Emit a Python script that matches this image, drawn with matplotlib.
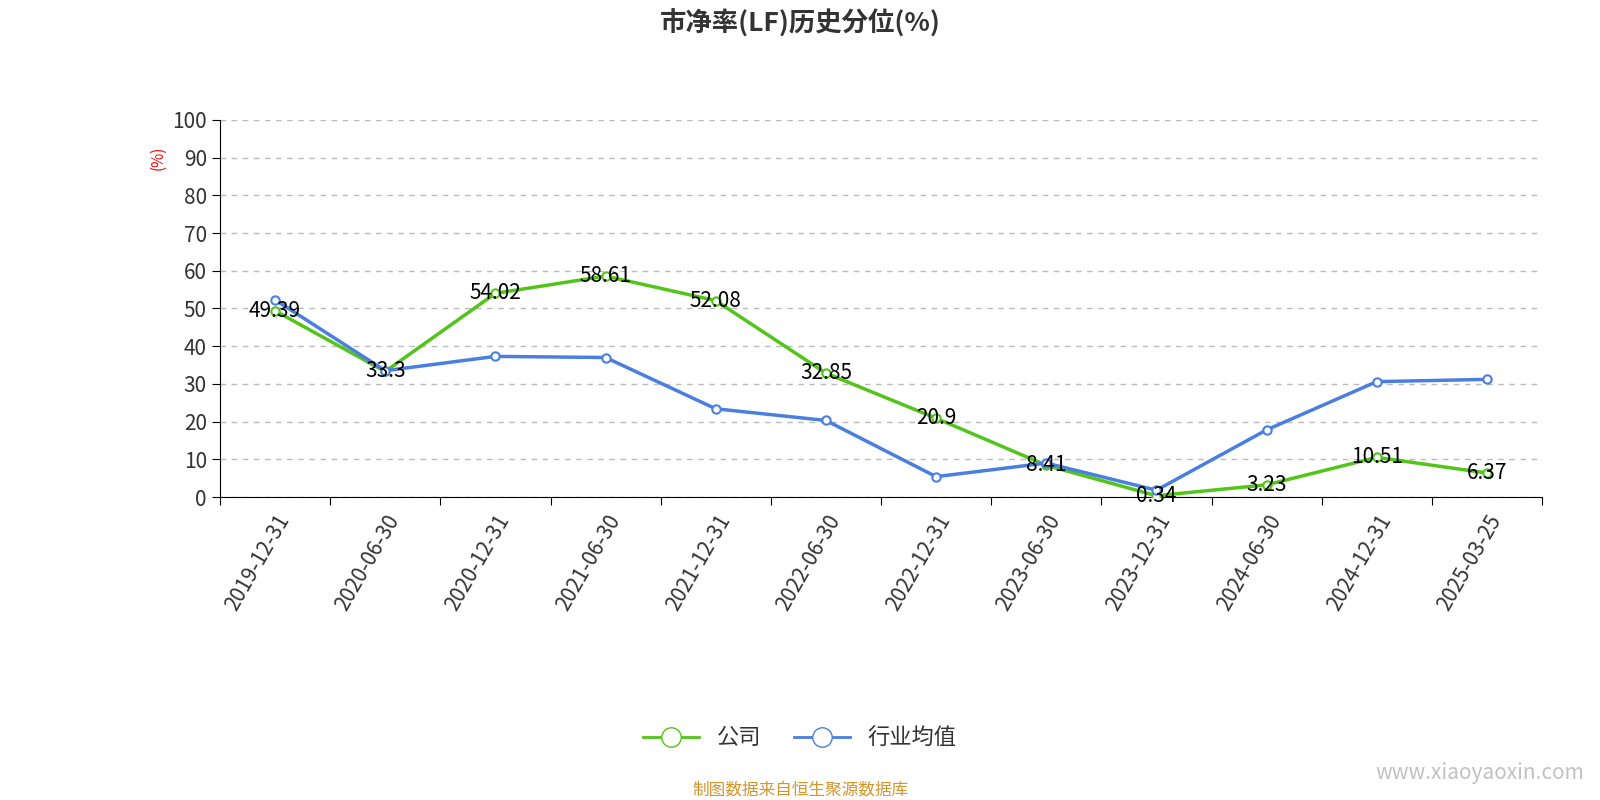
import matplotlib
matplotlib.use("Agg")
import matplotlib.pyplot as plt
from matplotlib import font_manager as fm

cands = ['Noto Sans CJK SC', 'Noto Sans CJK JP', 'Noto Sans CJK TC', 'Noto Sans CJK KR']
avail = {f.name for f in fm.fontManager.ttflist}
cjk = [c for c in cands if c in avail]
plt.rcParams['font.family'] = 'sans-serif'
plt.rcParams['font.sans-serif'] = cjk + ['DejaVu Sans']

dates = ["2019-12-31","2020-06-30","2020-12-31","2021-06-30","2021-12-31","2022-06-30",
         "2022-12-31","2023-06-30","2023-12-31","2024-06-30","2024-12-31","2025-03-25"]
company = [49.39, 33.3, 54.02, 58.61, 52.08, 32.85, 20.9, 8.41, 0.34, 3.23, 10.51, 6.37]
industry = [52.3, 33.5, 37.3, 37.0, 23.4, 20.3, 5.4, 9.0, 1.8, 17.8, 30.6, 31.2]

fig = plt.figure(figsize=(16, 8), dpi=100)
ax = fig.add_axes([220/1600, 1-497/800, 1322/1600, 377/800])
x = list(range(len(dates)))
green = '#52c41a'; blue = '#4a7fe0'
ax.plot(x, company, color=green, lw=2.5, marker='o', ms=6, mfc='white', mec=green, mew=1.5, zorder=3)
ax.plot(x, industry, color=blue, lw=2.5, marker='o', ms=6, mfc='white', mec=blue, mew=1.5, zorder=4)
for xi, v in zip(x, company):
    ax.text(xi, v, f"{v:g}", ha='center', va='center', fontsize=15, color='black', zorder=5)

ax.set_xlim(-0.5, len(dates)-0.5)
ax.set_ylim(0, 100)
ax.set_yticks(range(0, 101, 10))
ax.set_xticks([i-0.5 for i in range(len(dates)+1)], minor=False)
ax.set_xticklabels([])
ax.set_xticks(x, minor=True)
ax.set_xticklabels(dates, minor=True, rotation=60, ha='right', rotation_mode='anchor', fontsize=15, color='#333')
ax.tick_params(axis='x', which='minor', length=0, pad=10)
ax.tick_params(axis='x', which='major', length=6)
ax.tick_params(axis='y', labelsize=15, labelcolor='#333', length=6)
ax.yaxis.grid(True, ls=(0, (4, 4)), color='#bbb', lw=1)
for s in ['top', 'right']:
    ax.spines[s].set_visible(False)
ax.text(-0.047, 0.9, '(%)', transform=ax.transAxes, rotation=90, color='red', fontsize=11, ha='center', va='center')

fig.text(0.5, 1-24/800, '市净率(LF)历史分位(%)', ha='center', va='center', fontsize=19, fontweight='bold', color='#333')
from matplotlib.lines import Line2D
h = [Line2D([], [], color=green, lw=2, marker='o', ms=14, mfc='white', mec=green),
     Line2D([], [], color=blue, lw=2, marker='o', ms=14, mfc='white', mec=blue)]
fig.legend(h, ['公司', '行业均值'], loc='center', bbox_to_anchor=(0.5, 1-738/800), ncol=2, frameon=False,
           fontsize=16, handlelength=2.5, columnspacing=1.5, labelcolor='#333')
fig.text(0.5, 1-790/800, '制图数据来自恒生聚源数据库', ha='center', va='center', fontsize=12, color='#d4952b')
fig.text(0.99, 1-773/800, 'www.xiaoyaoxin.com', ha='right', va='center', fontsize=15, color='#999', alpha=0.6)
fig.savefig('out.png')
